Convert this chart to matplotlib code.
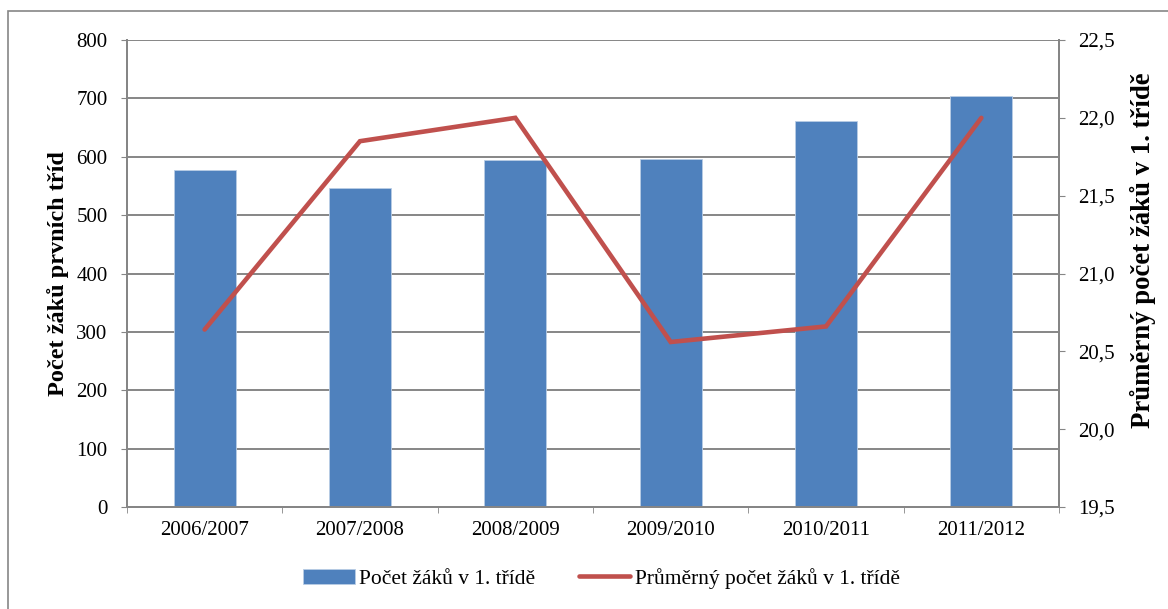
import numpy as np
import matplotlib.pyplot as plt
from matplotlib.patches import Rectangle

years = ["2006/2007", "2007/2008", "2008/2009", "2009/2010", "2010/2011", "2011/2012"]
pocet_zaku = [578, 546, 594, 596, 661, 704]
prumerny_pocet = [20.64, 21.85, 22.0, 20.56, 20.66, 22.0]

plt.rcParams['font.family'] = ['Liberation Serif', 'DejaVu Serif']
grid_col = '#868686'

fig = plt.figure(figsize=(11.68, 6.09), dpi=100)
ax = fig.add_axes([0.1087, 0.1675, 0.798, 0.7668])
ax2 = ax.twinx()

x = np.arange(len(years))
bars = ax.bar(x, pocet_zaku, width=0.4, color='#4F81BD', edgecolor='#B9CDE5', linewidth=0.6, zorder=3,
              label="Počet žáků v 1. třídě")
line, = ax2.plot(x, prumerny_pocet, color='#C0504D', linewidth=3.3, solid_capstyle='round',
                 solid_joinstyle='miter', label="Průměrný počet žáků v 1. třídě")

ax.set_xlim(-0.5, len(years) - 0.5)
ax.set_ylim(0, 800)
ax.set_yticks(range(0, 801, 100))
ax2.set_ylim(19.5, 22.5)
ax2.set_yticks(np.arange(19.5, 22.51, 0.5))
ax2.set_yticklabels([f"{v:.1f}".replace('.', ',') for v in np.arange(19.5, 22.51, 0.5)])

ax.set_xticks(x)
ax.set_xticklabels(years)
ax.set_xticks(np.arange(-0.5, len(years), 1), minor=True)
ax.tick_params(axis='x', which='major', length=0, labelsize=15, pad=10)
ax.tick_params(axis='x', which='minor', length=4, color=grid_col, direction='out')
ax.tick_params(axis='y', length=4, color=grid_col, labelsize=15, pad=10)
ax2.tick_params(axis='y', length=4, color=grid_col, labelsize=15, pad=10)

ax.yaxis.grid(True, color=grid_col, linewidth=1.4, zorder=0)
ax.set_axisbelow(True)
for a in (ax, ax2):
    a.spines['top'].set_visible(False)
    for s in ('left', 'right', 'bottom'):
        a.spines[s].set_color(grid_col)
        a.spines[s].set_linewidth(1.4)

ax.set_ylabel("Počet žáků prvních tříd", fontsize=17.5, fontweight='bold', labelpad=5)
ax2.set_ylabel("Průměrný počet žáků v 1. třídě", fontsize=19.3, fontweight='bold')
ax2.yaxis.set_label_coords(1.076, 0.55)

fig.legend([bars, line], [bars.get_label(), line.get_label()], loc='center', bbox_to_anchor=(0.515, 0.05),
           ncol=2, frameon=False, fontsize=15.5, handlelength=2.4, handletextpad=0.2, columnspacing=2.0)

fig.patches.append(Rectangle((8 / 1168, -0.1), 2, 1 - 11 / 609 + 0.1, transform=fig.transFigure,
                             fill=False, edgecolor=grid_col, linewidth=1.2))

fig.savefig("out.png", dpi=100)
